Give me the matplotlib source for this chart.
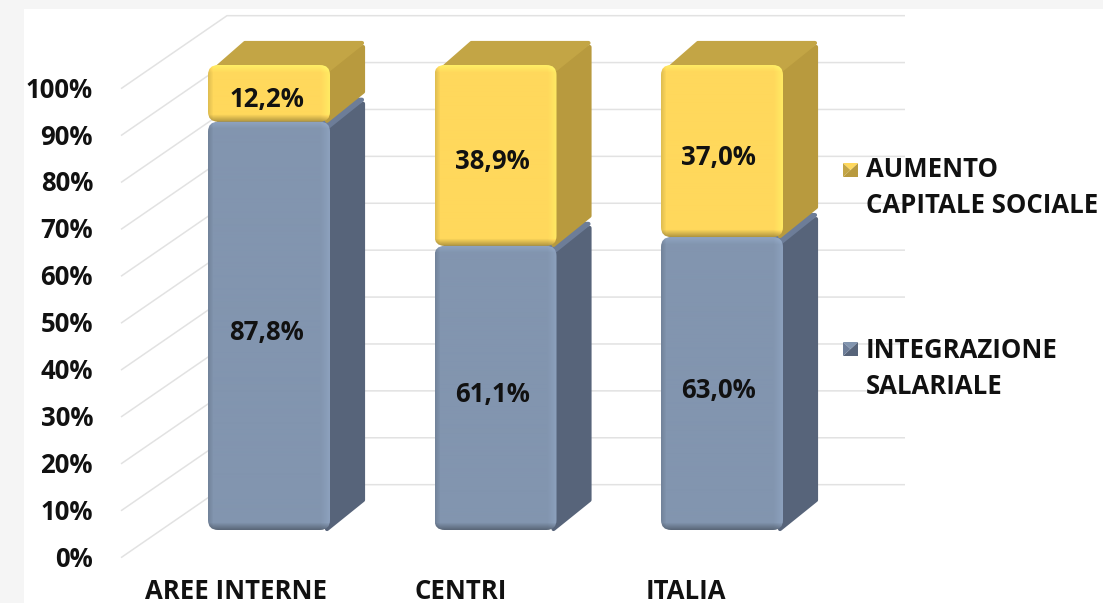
import numpy as np
import matplotlib
matplotlib.use('Agg')
from matplotlib import pyplot as plt
from matplotlib.colors import to_rgb
from matplotlib.patches import FancyBboxPatch, Polygon, Rectangle

categories = ['AREE INTERNE', 'CENTRI', 'ITALIA']
integrazione = [87.8, 61.1, 63.0]
aumento = [12.2, 38.9, 37.0]
y_ticks = [0, 10, 20, 30, 40, 50, 60, 70, 80, 90, 100]

legend_labels = ['AUMENTO\nCAPITALE SOCIALE', 'INTEGRAZIONE\nSALARIALE']

BLUE = {'front': '#8295af', 'side': '#57647a', 'top': '#6d7d98'}
YELLOW = {'front': '#ffd85c', 'side': '#b89a3e', 'top': '#c3a545'}
FONT = ['Open Sans', 'DejaVu Sans']
FS = 18.5

# scale of the axes: pixels per category and pixels per percent point
SX = 226.5
SY = 4.65
BAR_W = 122 / SX
DEPTH_X = 35 / SX
DEPTH_Y = 24 / SY
WALL_SCALE = 46.9 / 46.5

fig = plt.figure(figsize=(11.03, 6.03), dpi=100, facecolor='#f5f5f5')
ax = fig.add_axes([0, 0, 1, 1])
ax.axis('off')
xlim = (-269 / SX, (1103 - 269) / SX)
ylim = (-73 / SY, 530 / SY)

# white chart area, the grey background only shows on top and left
ax.add_patch(Rectangle((xlim[0] + 24 / SX, ylim[0]), 2000 / SX, 594 / SY,
                       fc='white', ec='none', zorder=0))


def shaded_face(x0, x1, y0, y1, color, z):
    # front of a bar: rounded box with a bevel painted as an image
    w = int((x1 - x0) * SX)
    h = int((y1 - y0) * SY)
    yy, xx = np.mgrid[0:h, 0:w]
    k = np.ones((h, w))
    k *= 1 + 0.10 * np.clip(1 - (h - 1 - yy) / 7, 0, 1)
    k *= 1 + 0.08 * np.clip(1 - (w - 1 - xx) / 9, 0, 1)
    k *= 1 - 0.30 * np.clip(1 - yy / 7, 0, 1)
    k *= 1 - 0.12 * np.clip(1 - xx / 5, 0, 1)
    rgb = np.clip(np.array(to_rgb(color))[None, None, :] * k[:, :, None], 0, 1)
    im = ax.imshow(rgb, extent=(x0, x1, y0, y1), origin='lower', aspect='auto',
                   zorder=z, interpolation='bilinear')
    clip = FancyBboxPatch((x0, y0), x1 - x0, y1 - y0,
                          boxstyle='round,pad=0,rounding_size=%f' % (10 / SX),
                          mutation_aspect=SX / SY, fc='none', ec='none',
                          transform=ax.transData)
    ax.add_patch(clip)
    im.set_clip_path(clip)


def draw_segment(x, bottom, height, colors, z):
    x0, x1 = x - BAR_W / 2, x + BAR_W / 2
    top = bottom + height
    r = 6 / SY
    # thick round-joined edges soften the corners of the side and the lid
    side = [(x1 - 3 / SX, bottom + 1 / SY), (x1 + DEPTH_X - 2 / SX, bottom + DEPTH_Y + r),
            (x1 + DEPTH_X - 2 / SX, top + DEPTH_Y - r), (x1 - 3 / SX, top - r)]
    ax.add_patch(Polygon(side, fc=colors['side'], ec=colors['side'], lw=3,
                         joinstyle='round', zorder=z))
    lid = [(x0 + 5 / SX, top - r), (x0 + DEPTH_X + 2 / SX, top + DEPTH_Y - 2 / SY),
           (x1 + DEPTH_X - 3 / SX, top + DEPTH_Y - 2 / SY), (x1 - 3 / SX, top - r)]
    ax.add_patch(Polygon(lid, fc=colors['top'], ec=colors['top'], lw=3,
                         joinstyle='round', zorder=z + 0.1))
    shaded_face(x0, x1, bottom, top, colors['front'], z + 0.5)


def put_text(x, y, s, **kw):
    kw.setdefault('va', 'center')
    ax.text(x, y, s, fontsize=FS, fontweight='bold', family=FONT,
            color='#111111', zorder=8, **kw)


# back walls: gridlines run from the front edge to the back then right
for v in y_ticks:
    y = (v - 5.8) * WALL_SCALE - 0.1
    ax.plot([-148 / SX, -42 / SX, 636 / SX],
            [y, y + 73 / SY, y + 73 / SY],
            color='#e2e2e2', lw=1.1, zorder=1, solid_capstyle='butt')
    put_text(-176 / SX, y - 1.5 / SY, '%d%%' % v, ha='right')

for i, cat in enumerate(categories):
    draw_segment(i, 0, integrazione[i], BLUE, 2 + i)
    draw_segment(i, integrazione[i], aumento[i], YELLOW, 2.6 + i)
    lx = i - (2 + i) / SX
    put_text(lx, integrazione[i] / 2 - 1.4, ('%.1f%%' % integrazione[i]).replace('.', ','), ha='center')
    put_text(lx, integrazione[i] + aumento[i] / 2 - 1.3, ('%.1f%%' % aumento[i]).replace('.', ','), ha='center')
    put_text((-33 + i * 225) / SX, -69 / SY, cat, ha='center', va='baseline')


def legend_key(px, py, colors):
    # small square split in four shaded triangles
    x0, x1 = (px - 269) / SX, (px + 15 - 269) / SX
    y1, y0 = (530 - py) / SY, (530 - py - 14) / SY
    xc, yc = (x0 + x1) / 2, (y0 + y1) / 2
    ax.add_patch(Polygon([(x0, y0), (x1, y0), (x1, y1), (xc, yc)], fc=colors['side'], ec='none', zorder=6))
    ax.add_patch(Polygon([(x0, y0), (xc, yc), (x0, y1)], fc=colors['top'], ec='none', zorder=6))
    ax.add_patch(Polygon([(x0, y1), (x1, y1), (xc, yc)], fc=colors['front'], ec='none', zorder=6))


legend_key(843, 163, YELLOW)
legend_key(843, 342, BLUE)
for label, py in zip(legend_labels, [187.5, 368.5]):
    put_text((866 - 269) / SX, (530 - py) / SY, label, ha='left', linespacing=1.42)

ax.set_xlim(xlim)
ax.set_ylim(ylim)
fig.savefig('out.png', dpi=100, facecolor=fig.get_facecolor())
